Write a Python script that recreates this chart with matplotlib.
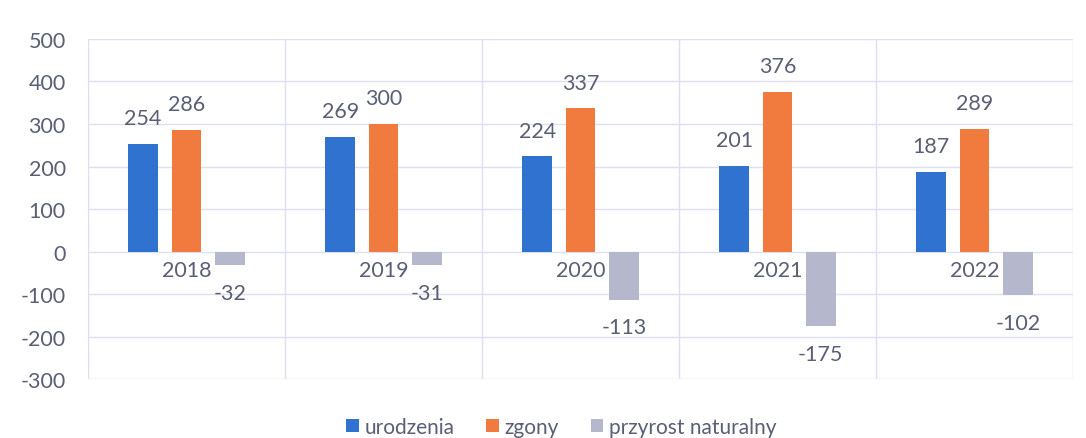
import matplotlib
matplotlib.use("Agg")
import matplotlib.pyplot as plt
import numpy as np

years = ["2018", "2019", "2020", "2021", "2022"]
urodzenia = [254, 269, 224, 201, 187]
zgony = [286, 300, 337, 376, 289]
przyrost = [-32, -31, -113, -175, -102]
series_names = ["urodzenia", "zgony", "przyrost naturalny"]
colors = ["#2f72cf", "#f17b3f", "#b5b7cc"]
text_color = "#5b5f75"
grid_color = "#dde0f2"

plt.rcParams['font.family'] = ['Lato', 'DejaVu Sans']
plt.rcParams['axes.unicode_minus'] = False

fig = plt.figure(figsize=(10.86, 4.39), dpi=100)
ax = fig.add_axes([0.081, 0.134, 0.907, 0.775])

x = np.arange(len(years))
width = 0.15
step = 0.22
data = [urodzenia, zgony, przyrost]
fs = 15.5
for i, (vals, col, name) in enumerate(zip(data, colors, series_names)):
    pos = x + (i - 1) * step
    bars = ax.bar(pos, vals, width, color=col, label=name, zorder=3)
    for b, v in zip(bars, vals):
        if v >= 0:
            ax.annotate(str(v), (b.get_x() + b.get_width() / 2, v),
                        xytext=(0, 18.5), textcoords="offset points",
                        ha="center", va="center", fontsize=fs, color=text_color)
        else:
            ax.annotate(str(v), (b.get_x() + b.get_width() / 2, v),
                        xytext=(0, -20), textcoords="offset points",
                        ha="center", va="center", fontsize=fs, color=text_color)

# category labels near the zero line
for xi, yr in zip(x, years):
    ax.annotate(yr, (xi, 0), xytext=(0, -13), textcoords="offset points",
                ha="center", va="center", fontsize=fs, color=text_color)

ax.set_xlim(-0.5, len(years) - 0.5)
ax.set_ylim(-300, 500)
ax.set_yticks(np.arange(-300, 501, 100))
ax.set_xticks([])
ax.tick_params(axis="y", length=0, labelsize=fs, labelcolor=text_color, pad=16)
for sp in ax.spines.values():
    sp.set_visible(False)
for yv in np.arange(-300, 501, 100):
    ax.axhline(yv, color=grid_color, lw=1, zorder=1)
for xv in np.arange(-0.5, len(years), 1.0):
    ax.axvline(xv, color=grid_color, lw=1, zorder=1)

fig.legend(loc="lower center", bbox_to_anchor=(0.517, -0.04), ncol=3, frameon=False,
           fontsize=15, labelcolor=text_color, handlelength=0.6, handleheight=0.6,
           handletextpad=0.3, columnspacing=1.5)

fig.savefig("out.png", dpi=100)
